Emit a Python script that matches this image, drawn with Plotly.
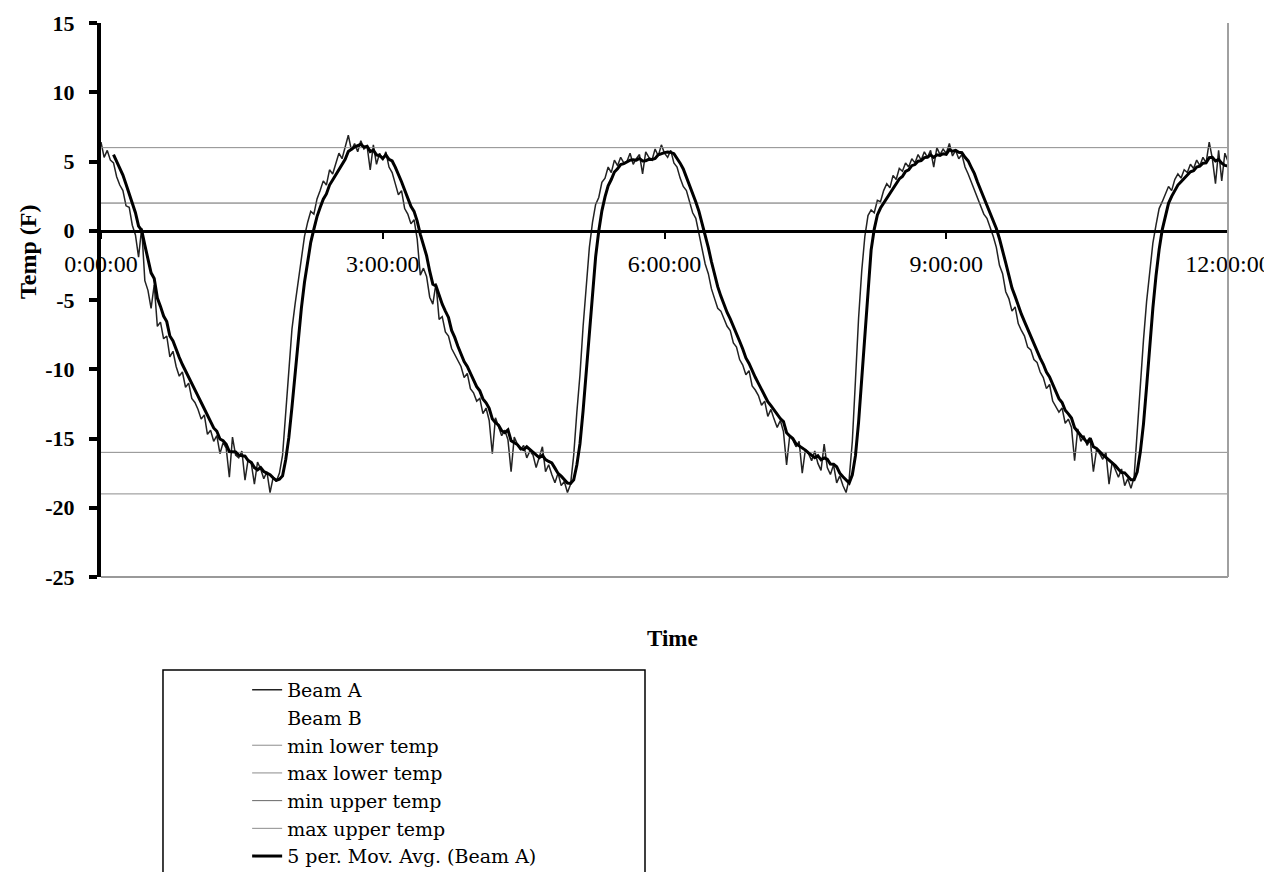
import plotly.graph_objects as go
import pandas as pd

# ---- data: Beam A temperature (F), one reading every 2 minutes, 0:00:00 -> 12:00:00 ----
minutes = list(range(0, 722, 2))
beam_a = [
    # hour 0
    6.4, 5.3, 5.8, 5.1, 4.9, 3.9, 3.3, 2.9, 1.8, 1.7,
    0.4, -0.3, -1.9, 0.2, -3.6, -4.3, -5.6, -3.9, -6.9, -6.6,
    -7.8, -7.6, -9.1, -8.7, -9.8, -10.5, -10.2, -11.3, -11.0, -12.1,
    # hour 1
    -12.4, -12.9, -13.6, -13.3, -14.7, -14.4, -15.2, -14.8, -16.1, -15.3,
    -15.7, -17.8, -14.9, -16.2, -16.4, -15.9, -18.0, -16.5, -16.8, -18.3,
    -16.7, -17.2, -17.9, -17.4, -18.9, -17.8, -18.1, -17.5, -16.2, -13.1,
    # hour 2
    -9.8, -7.1, -5.3, -3.6, -2.2, -0.4, 0.6, 1.4, 1.2, 2.3,
    2.9, 3.6, 3.3, 4.4, 4.1, 4.9, 5.6, 5.2, 6.0, 6.9,
    5.8, 6.3, 5.7, 6.5, 5.9, 6.1, 4.4, 6.2, 4.8, 5.6,
    # hour 3
    5.1, 5.7, 4.6, 4.2, 3.4, 2.6, 2.9, 1.6, 1.2, 0.5,
    0.8, -0.6, -3.2, -2.7, -3.3, -4.8, -5.3, -3.8, -6.4, -6.2,
    -7.3, -7.6, -8.5, -8.9, -9.4, -9.8, -10.6, -10.3, -11.4, -11.7,
    # hour 4
    -12.3, -12.1, -13.2, -12.8, -13.7, -16.1, -13.5, -14.1, -14.8, -14.4,
    -15.1, -17.4, -14.9, -15.4, -15.8, -15.5, -16.4, -15.9, -16.2, -17.1,
    -16.3, -15.6, -17.4, -16.9, -17.6, -18.2, -17.5, -18.4, -18.1, -18.9,
    # hour 5
    -18.3, -16.2, -13.1, -10.4, -6.9, -3.8, -1.2, 0.6, 1.9, 2.4,
    3.5, 3.8, 4.6, 4.2, 5.1, 4.7, 5.3, 4.9, 5.0, 5.6,
    4.8, 5.2, 5.5, 4.1, 5.7, 5.3, 5.1, 5.9, 5.4, 6.2,
    # hour 6
    5.6, 5.3, 5.8, 4.9, 4.6, 3.8, 3.2, 2.9, 2.1, 1.3,
    0.9, -0.2, -1.3, -2.4, -3.1, -4.2, -4.9, -5.6, -5.8, -6.3,
    -6.9, -7.2, -8.1, -8.4, -9.3, -9.7, -10.4, -10.1, -11.2, -11.5,
    # hour 7
    -11.9, -12.6, -12.3, -13.4, -12.9, -13.6, -14.2, -13.7, -14.5, -16.9,
    -14.8, -15.1, -15.6, -15.2, -17.5, -15.8, -16.1, -16.6, -15.9, -16.8,
    -17.3, -15.4, -17.1, -17.6, -16.9, -18.2, -17.7, -18.4, -18.9, -17.9,
    # hour 8
    -15.2, -10.8, -6.3, -2.9, -0.4, 1.1, 1.5, 1.3, 2.2, 2.1,
    2.9, 3.4, 3.1, 4.0, 3.7, 4.5, 4.3, 4.9, 4.6, 5.2,
    4.9, 5.5, 5.1, 5.7, 5.3, 5.8, 4.6, 6.0, 5.5, 5.9,
    # hour 9
    5.6, 6.3, 5.4, 5.8, 5.2, 5.5, 4.6, 4.1, 3.5, 2.9,
    2.4, 1.7, 1.2, 0.9, 0.3, -0.4, -1.2, -2.5, -3.1, -4.4,
    -4.9, -5.8, -5.5, -6.7, -7.2, -7.6, -8.4, -8.6, -9.3, -9.5,
    # hour 10
    -10.2, -10.6, -11.4, -11.1, -12.3, -12.7, -13.1, -12.8, -13.9, -13.6,
    -14.2, -16.6, -14.3, -15.2, -14.8, -15.5, -15.1, -17.4, -15.8, -16.1,
    -16.5, -16.0, -18.3, -16.7, -17.3, -17.8, -17.2, -18.4, -17.9, -18.6,
    # hour 11
    -17.8, -14.3, -11.2, -7.9, -5.1, -2.8, -0.9, 0.4, 1.6, 2.1,
    2.6, 3.2, 2.9, 3.7, 4.1, 3.8, 4.4, 4.2, 4.8, 4.5,
    5.1, 4.7, 5.3, 4.9, 6.4, 5.2, 3.4, 5.8, 3.6, 5.6,
    # 12:00:00
    5.0,
]

limit_span = [0, 720]
min_lower_temp = -19
max_lower_temp = -16
min_upper_temp = 2
max_upper_temp = 6

x_tick_vals = [0, 180, 360, 540, 720]
x_tick_text = ["0:00:00", "3:00:00", "6:00:00", "9:00:00", "12:00:00"]
y_tick_vals = [-25, -20, -15, -10, -5, 0, 5, 10, 15]
y_tick_text = ["-25", "-20", "-15", "-10", "-5", "0", "5", "10", "15"]

mov_avg = pd.Series(beam_a).rolling(5).mean()

SERIF = "Liberation Serif"

fig = go.Figure()
fig.add_trace(go.Scatter(x=minutes, y=beam_a, mode="lines", name="Beam A",
                         line=dict(color="#222222", width=1.5)))
fig.add_trace(go.Scatter(x=[None], y=[None], mode="lines", name="Beam B",
                         line=dict(color="#ffffff", width=1)))
fig.add_trace(go.Scatter(x=limit_span, y=[min_lower_temp] * 2, mode="lines",
                         name="min lower temp", line=dict(color="#8c8c8c", width=1)))
fig.add_trace(go.Scatter(x=limit_span, y=[max_lower_temp] * 2, mode="lines",
                         name="max lower temp", line=dict(color="#8c8c8c", width=1)))
fig.add_trace(go.Scatter(x=limit_span, y=[min_upper_temp] * 2, mode="lines",
                         name="min upper temp", line=dict(color="#666666", width=1)))
fig.add_trace(go.Scatter(x=limit_span, y=[max_upper_temp] * 2, mode="lines",
                         name="max upper temp", line=dict(color="#8c8c8c", width=1)))
fig.add_trace(go.Scatter(x=minutes, y=mov_avg, mode="lines",
                         name="5 per. Mov. Avg. (Beam A)",
                         line=dict(color="#000000", width=3)))

fig.update_layout(
    width=1272, height=872,
    margin=dict(l=93, r=52, t=15, b=303, autoexpand=False),
    paper_bgcolor="white", plot_bgcolor="white",
    showlegend=True,
    legend=dict(xref="container", yref="container", x=0.188, y=0.2397,
                xanchor="left", yanchor="top",
                bgcolor="rgba(0,0,0,0)", borderwidth=0,
                font=dict(family="DejaVu Serif", size=19, color="black"),
                tracegroupgap=0),
    xaxis=dict(range=[0, 720], anchor="free", position=0.625, automargin=False,
               showline=True, linecolor="black", linewidth=3,
               ticks="outside", ticklen=6, tickwidth=2, tickcolor="black",
               tickvals=x_tick_vals, ticktext=x_tick_text,
               tickfont=dict(family=SERIF, size=24, color="black"),
               ticklabelstandoff=4, ticklabeloverflow="allow",
               showgrid=False, zeroline=False),
    yaxis=dict(range=[-25, 15], automargin=False,
               tickvals=y_tick_vals, ticktext=y_tick_text,
               showline=True, linecolor="black", linewidth=4,
               ticks="outside", ticklen=8, tickwidth=4, tickcolor="black",
               tickfont=dict(family=SERIF, size=22, color="black", weight="bold"),
               ticklabelstandoff=10, ticklabeloverflow="allow",
               showgrid=False, zeroline=False),
    shapes=[
        dict(type="line", xref="paper", yref="paper", x0=0, x1=1, y0=0, y1=0,
             line=dict(color="#999999", width=2)),
        dict(type="line", xref="paper", yref="paper", x0=1, x1=1, y0=0, y1=1,
             line=dict(color="#a0a0a0", width=2)),
        dict(type="rect", xref="paper", yref="paper", x0=0.055, x1=0.4827,
             y0=-0.1679, y1=-0.62, line=dict(color="black", width=1.5),
             fillcolor="rgba(0,0,0,0)", layer="below"),
    ],
    annotations=[
        dict(text="Time", xref="paper", yref="paper", x=0.5067, y=-0.1119,
             xanchor="center", yanchor="middle", showarrow=False,
             font=dict(family=SERIF, size=23, color="black", weight="bold")),
        dict(text="Temp (F)", xref="paper", yref="paper", x=-0.0648, y=0.5866,
             xanchor="center", yanchor="middle", showarrow=False, textangle=-90,
             font=dict(family=SERIF, size=24, color="black", weight="bold")),
    ],
)

fig.write_html("out.html")
